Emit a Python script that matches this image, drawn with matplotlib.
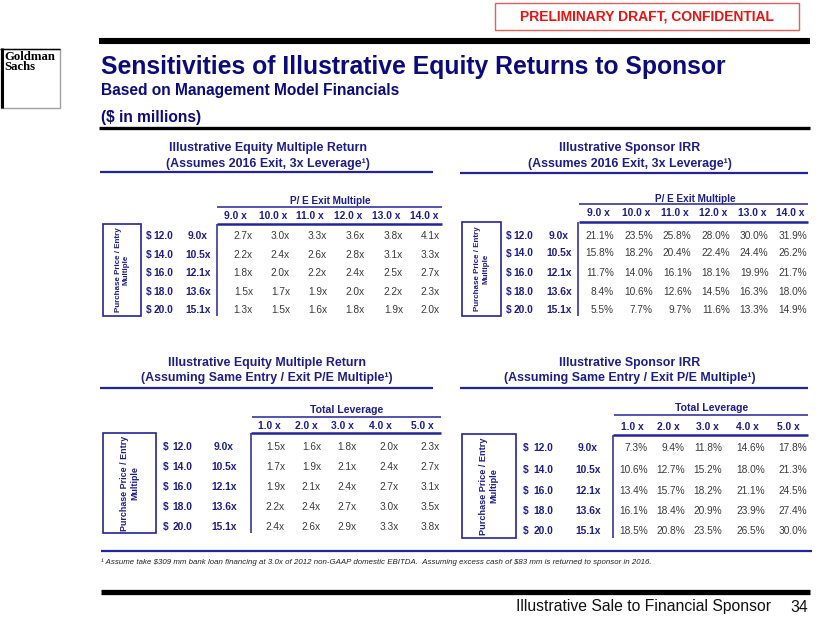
import matplotlib
matplotlib.use("Agg")
import matplotlib.pyplot as plt
from matplotlib.patches import Rectangle

# ---------------- data ----------------
entry_prices = [12.0, 14.0, 16.0, 18.0, 20.0]
entry_multiples = [9.0, 10.5, 12.1, 13.6, 15.1]
exit_multiples = [9.0, 10.0, 11.0, 12.0, 13.0, 14.0]
leverage_levels = [1.0, 2.0, 3.0, 4.0, 5.0]

equity_multiple_by_exit = [
    [2.7, 3.0, 3.3, 3.6, 3.8, 4.1],
    [2.2, 2.4, 2.6, 2.8, 3.1, 3.3],
    [1.8, 2.0, 2.2, 2.4, 2.5, 2.7],
    [1.5, 1.7, 1.9, 2.0, 2.2, 2.3],
    [1.3, 1.5, 1.6, 1.8, 1.9, 2.0],
]
irr_by_exit = [
    [21.1, 23.5, 25.8, 28.0, 30.0, 31.9],
    [15.8, 18.2, 20.4, 22.4, 24.4, 26.2],
    [11.7, 14.0, 16.1, 18.1, 19.9, 21.7],
    [8.4, 10.6, 12.6, 14.5, 16.3, 18.0],
    [5.5, 7.7, 9.7, 11.6, 13.3, 14.9],
]
equity_multiple_by_leverage = [
    [1.5, 1.6, 1.8, 2.0, 2.3],
    [1.7, 1.9, 2.1, 2.4, 2.7],
    [1.9, 2.1, 2.4, 2.7, 3.1],
    [2.2, 2.4, 2.7, 3.0, 3.5],
    [2.4, 2.6, 2.9, 3.3, 3.8],
]
irr_by_leverage = [
    [7.3, 9.4, 11.8, 14.6, 17.8],
    [10.6, 12.7, 15.2, 18.0, 21.3],
    [13.4, 15.7, 18.2, 21.1, 24.5],
    [16.1, 18.4, 20.9, 23.9, 27.4],
    [18.5, 20.8, 23.5, 26.5, 30.0],
]

title = "Sensitivities of Illustrative Equity Returns to Sponsor"
subtitle = "Based on Management Model Financials"
units = "($ in millions)"
table_titles = [
    ("Illustrative Equity Multiple Return", "(Assumes 2016 Exit, 3x Leverage\u00b9)"),
    ("Illustrative Sponsor IRR", "(Assumes 2016 Exit, 3x Leverage\u00b9)"),
    ("Illustrative Equity Multiple Return", "(Assuming Same Entry / Exit P/E Multiple\u00b9)"),
    ("Illustrative Sponsor IRR", "(Assuming Same Entry / Exit P/E Multiple\u00b9)"),
]
group_labels = ["P/ E Exit Multiple", "P/ E Exit Multiple", "Total Leverage", "Total Leverage"]
row_axis_label = "Purchase Price / Entry\nMultiple"
footnote = ("\u00b9 Assume take $309 mm bank loan financing at 3.0x of 2012 non-GAAP domestic EBITDA.  "
            "Assuming excess cash of $83 mm is returned to sponsor in 2016.")
footer = "Illustrative Sale to Financial Sponsor"
page_no = "34"
draft_label = "PRELIMINARY DRAFT, CONFIDENTIAL"

# ---------------- styling ----------------
NAVY = "#0b0b7e"
TNAVY = "#1d1d8c"
LNAVY = "#24249a"
GRAY = "#3a3a3a"
plt.rcParams["font.family"] = ["Liberation Sans", "DejaVu Sans"]
plt.rcParams["text.parse_math"] = False

fig = plt.figure(figsize=(8.4, 6.27), dpi=100)
ax = fig.add_axes([0, 0, 1, 1])
ax.set_xlim(0, 840)
ax.set_ylim(627, 0)
ax.axis("off")

def hline(y, x0, x1, lw, color):
    ax.plot([x0, x1], [y, y], color=color, lw=lw, solid_capstyle="butt")

def vline(x, y0, y1, lw, color):
    ax.plot([x, x], [y0, y1], color=color, lw=lw, solid_capstyle="butt")

# draft box
ax.add_patch(Rectangle((495, 3), 304, 27, fill=False, ec="#e06060", lw=1.0))
ax.text(647, 16.5, draft_label, color="#ee1111", fontsize=10, fontweight="bold",
        ha="center", va="center")

# logo
ax.add_patch(Rectangle((1, 49), 59, 59, fc="white", ec="#a0a0a0", lw=1.0))
vline(1.5, 48, 108, 2.2, "black")
hline(48.5, 0, 60, 1.0, "black")
ax.text(4, 51, "Goldman\nSachs", fontsize=9.2, fontweight="bold", family="Liberation Serif",
        ha="left", va="top", linespacing=0.8, color="black")

# header
hline(41, 99, 810, 4.4, "black")
ax.text(101, 67, title, color=NAVY, fontsize=17.85, fontweight="bold", ha="left", va="center")
ax.text(101, 90.5, subtitle, color=NAVY, fontsize=11.2, fontweight="bold", ha="left", va="center")
ax.text(101, 117.5, units, color=NAVY, fontsize=11.2, fontweight="bold", ha="left", va="center")
hline(128, 99, 810, 2.4, "black")

# ---------------- tables ----------------
layouts = [
    dict(cx=268, ty=(148, 164), tline=(172, 100, 433),
         gx=330, gy=201, gline=(207, 217, 442), hy=216, hline=(223.5, 217, 442),
         hxs=[235, 273, 310, 348, 386, 424], vx=217, vy1=316,
         rows=[236, 255, 273, 292, 310], rxs=[253, 290, 327, 365, 403, 440],
         dx=146, nx=173, mx=198, box=(103, 224, 141, 316), lfs=5.8),
    dict(cx=630, ty=(148, 164), tline=(173, 460, 808),
         gx=695, gy=199, gline=(204, 579, 808), hy=213, hline=(222, 579, 808),
         hxs=[598, 636, 675, 713, 752, 790], vx=578, vy1=316,
         rows=[236, 253.5, 273, 292, 310], rxs=[614, 653, 691.5, 730, 768.5, 807],
         dx=506, nx=533, mx=559, box=(462, 222, 501, 316), lfs=5.8),
    dict(cx=267, ty=(363, 378), tline=(388, 100, 433),
         gx=347, gy=410, gline=(417, 252, 441), hy=426, hline=(433, 251, 441),
         hxs=[269, 306, 342, 380, 422], vx=251, vy1=533,
         rows=[447, 467, 487, 507, 527], rxs=[285, 321, 357, 399, 440],
         dx=163, nx=192, mx=224, box=(103, 433, 156, 533), lfs=6.4),
    dict(cx=630, ty=(363, 378), tline=(388, 460, 808),
         gx=712, gy=408, gline=(415, 614, 808), hy=427, hline=(435, 613, 808),
         hxs=[632, 668, 707, 747, 788], vx=613, vy1=538,
         rows=[448, 470, 491, 511, 531], rxs=[648, 685, 722, 765, 807],
         dx=523, nx=553, mx=588, box=(462, 434, 516, 538), lfs=6.6),
]

tables = [
    (exit_multiples, equity_multiple_by_exit, "{:.1f}x"),
    (exit_multiples, irr_by_exit, "{:.1f}%"),
    (leverage_levels, equity_multiple_by_leverage, "{:.1f}x"),
    (leverage_levels, irr_by_leverage, "{:.1f}%"),
]

for (cols, vals, fmt), L, (t1, t2), glab in zip(tables, layouts, table_titles, group_labels):
    ax.text(L["cx"], L["ty"][0], t1, color=TNAVY, fontsize=8.9, fontweight="bold",
            ha="center", va="center")
    ax.text(L["cx"], L["ty"][1], t2, color=TNAVY, fontsize=8.9, fontweight="bold",
            ha="center", va="center")
    hline(L["tline"][0], L["tline"][1], L["tline"][2], 1.6, LNAVY)
    # group header
    ax.text(L["gx"], L["gy"], glab, color=TNAVY, fontsize=7.2 if "P/" in glab else 7.6,
            fontweight="bold", ha="center", va="center")
    hline(L["gline"][0], L["gline"][1], L["gline"][2], 1.1, LNAVY)
    for x, c in zip(L["hxs"], cols):
        ax.text(x, L["hy"], "{:.1f} x".format(c), color=TNAVY, fontsize=7.4,
                fontweight="bold", ha="center", va="center")
    hline(L["hline"][0], L["hline"][1], L["hline"][2], 1.8, LNAVY)
    vline(L["vx"], L["hline"][0], L["vy1"], 1.1, LNAVY)
    # row labels
    for y, p, m in zip(L["rows"], entry_prices, entry_multiples):
        ax.text(L["dx"], y, "$", color=TNAVY, fontsize=7.4, fontweight="bold",
                ha="left", va="center")
        ax.text(L["nx"], y, "{:.1f}".format(p), color=TNAVY, fontsize=7.4,
                fontweight="bold", ha="right", va="center")
        ax.text(L["mx"], y, "{:.1f}x".format(m), color=TNAVY, fontsize=7.4,
                fontweight="bold", ha="center", va="center")
    # values
    for y, row in zip(L["rows"], vals):
        for x, v in zip(L["rxs"], row):
            ax.text(x, y, fmt.format(v), color=GRAY, fontsize=7.3,
                    ha="right", va="center")
    # row-axis box
    bx0, by0, bx1, by1 = L["box"]
    ax.add_patch(Rectangle((bx0, by0), bx1 - bx0, by1 - by0, fill=False,
                           ec=LNAVY, lw=1.2))
    ax.text((bx0 + bx1) / 2, (by0 + by1) / 2, row_axis_label, rotation=90,
            color=TNAVY, fontsize=L["lfs"], fontweight="bold", ha="center", va="center",
            multialignment="center", linespacing=1.2)

# footnote
hline(551, 101, 812, 1.6, LNAVY)
ax.text(101, 562, footnote, fontsize=5.7, style="italic", color="#222222",
        ha="left", va="center")

# footer
hline(592, 101, 810, 3.8, "black")
ax.text(771, 607, footer, fontsize=11.3, color="#111111", ha="right", va="center")
ax.text(808, 607, page_no, fontsize=11.3, color="#111111", ha="right", va="center")

fig.savefig("out.png", dpi=100)
